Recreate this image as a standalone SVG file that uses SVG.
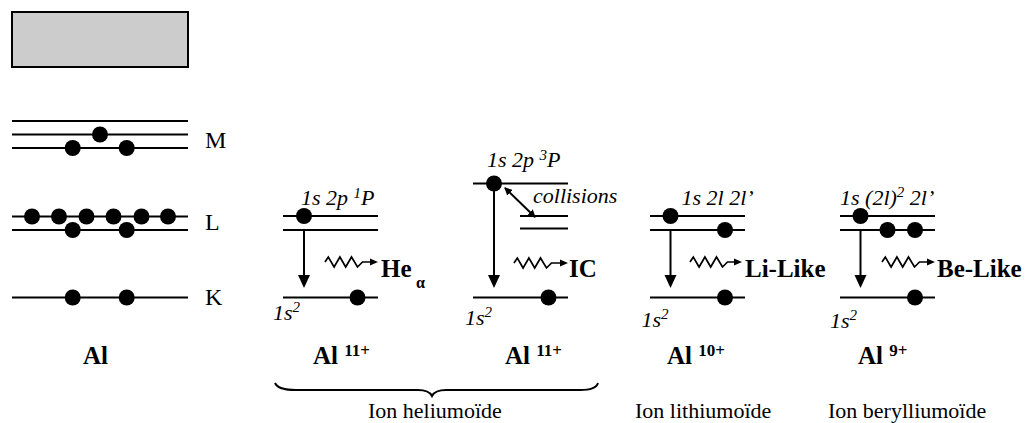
<svg xmlns="http://www.w3.org/2000/svg" width="1030" height="423" viewBox="0 0 1030 423">
<style>
.ln{stroke:#000;stroke-width:2;fill:none}
.wv{stroke:#000;stroke-width:1.7;fill:none;stroke-linejoin:miter}
.dot{fill:#000}
text{font-family:'Liberation Serif','Times New Roman',serif;fill:#000}
.it{font-style:italic;font-size:22px}
.bd{font-weight:bold;font-size:25px}
.sup{font-size:17px}
.rg{font-size:22px}
.lv{font-size:24px}
.sm{font-size:15px}
</style>
<defs>
<marker id="sa" viewBox="0 0 8 8" refX="7" refY="4" markerWidth="8" markerHeight="8" markerUnits="userSpaceOnUse" orient="auto-start-reverse"><path d="M0,0 L8,4 L0,8 z" fill="#000"/></marker>
<marker id="wa" viewBox="0 0 8 8" refX="6" refY="4" markerWidth="8" markerHeight="8" markerUnits="userSpaceOnUse" orient="auto"><path d="M0,0.5 L8,4 L0,7.5 z" fill="#000"/></marker>
</defs>

<g id="legend-box"><rect x="12" y="12" width="176" height="55" fill="#cccccc" stroke="#000" stroke-width="2"/></g>

<g id="atom-al">
<line class="ln" x1="12" y1="121" x2="188" y2="121"/>
<line class="ln" x1="12" y1="134.5" x2="188" y2="134.5"/>
<line class="ln" x1="12" y1="148" x2="188" y2="148"/>
<circle class="dot" cx="100" cy="134.5" r="8"/>
<circle class="dot" cx="72.7" cy="148" r="8"/>
<circle class="dot" cx="126.7" cy="148" r="8"/>
<line class="ln" x1="12" y1="216.5" x2="188" y2="216.5"/>
<line class="ln" x1="12" y1="230" x2="188" y2="230"/>
<circle class="dot" cx="32" cy="216.5" r="8"/>
<circle class="dot" cx="59" cy="216.5" r="8"/>
<circle class="dot" cx="86.5" cy="216.5" r="8"/>
<circle class="dot" cx="113.5" cy="216.5" r="8"/>
<circle class="dot" cx="141.5" cy="216.5" r="8"/>
<circle class="dot" cx="168" cy="216.5" r="8"/>
<circle class="dot" cx="72.7" cy="230" r="8"/>
<circle class="dot" cx="126.7" cy="230" r="8"/>
<line class="ln" x1="12" y1="297.5" x2="188" y2="297.5"/>
<circle class="dot" cx="72.7" cy="297.5" r="8"/>
<circle class="dot" cx="126.7" cy="297.5" r="8"/>
<text class="lv" x="205" y="148">M</text>
<text class="lv" x="205" y="230">L</text>
<text class="lv" x="205" y="305">K</text>
<text class="bd" x="83" y="364">Al</text>
</g>

<g id="ion-he-alpha">
<line class="ln" x1="283" y1="216" x2="378" y2="216"/>
<line class="ln" x1="283" y1="230" x2="378" y2="230"/>
<circle class="dot" cx="304" cy="216" r="8"/>
<line class="ln" x1="283" y1="297.5" x2="378" y2="297.5"/>
<circle class="dot" cx="357.5" cy="297.5" r="8"/>
<text class="it" x="301" y="205">1s 2p <tspan class="sm" dy="-7">1</tspan><tspan dy="7">P</tspan></text>
<text class="it" x="273" y="320">1s<tspan class="sm" dy="-8">2</tspan></text>
<text class="bd" x="381" y="277">He</text>
<text class="bd" x="416" y="288" style="font-size:16px">α</text>
<text class="bd" x="313" y="364">Al <tspan class="sup" dy="-8">11+</tspan></text>
</g>

<g id="ion-ic">
<line class="ln" x1="473" y1="183.5" x2="568" y2="183.5"/>
<circle class="dot" cx="494" cy="183.5" r="8"/>
<line class="ln" x1="520" y1="216" x2="568" y2="216"/>
<line class="ln" x1="520" y1="228.5" x2="568" y2="228.5"/>
<line class="ln" x1="473" y1="297.5" x2="568" y2="297.5"/>
<circle class="dot" cx="548.5" cy="297.5" r="8"/>
<text class="it" x="487" y="166.5">1s 2p <tspan class="sm" dy="-7">3</tspan><tspan dy="7">P</tspan></text>
<text class="it" x="533" y="203">collisions</text>
<text class="it" x="465" y="325">1s<tspan class="sm" dy="-8">2</tspan></text>
<text class="bd" x="569" y="277">IC</text>
<text class="bd" x="505" y="364">Al <tspan class="sup" dy="-8">11+</tspan></text>
</g>

<g id="ion-li">
<line class="ln" x1="650" y1="216" x2="745" y2="216"/>
<line class="ln" x1="650" y1="230" x2="745" y2="230"/>
<circle class="dot" cx="670.5" cy="216" r="8"/>
<circle class="dot" cx="725" cy="230" r="8"/>
<line class="ln" x1="650" y1="297.5" x2="745" y2="297.5"/>
<circle class="dot" cx="725" cy="297.5" r="8"/>
<text class="it" x="681.5" y="205">1s 2l 2l’</text>
<text class="it" x="641.5" y="327">1s<tspan class="sm" dy="-8">2</tspan></text>
<text class="bd" x="745" y="277">Li-Like</text>
<text class="bd" x="667" y="364">Al <tspan class="sup" dy="-8">10+</tspan></text>
</g>

<g id="ion-be">
<line class="ln" x1="840" y1="216" x2="935" y2="216"/>
<line class="ln" x1="840" y1="230" x2="935" y2="230"/>
<circle class="dot" cx="860.5" cy="216" r="8"/>
<circle class="dot" cx="887.5" cy="230" r="8"/>
<circle class="dot" cx="915" cy="230" r="8"/>
<line class="ln" x1="840" y1="297.5" x2="935" y2="297.5"/>
<circle class="dot" cx="915" cy="297.5" r="8"/>
<text class="it" x="840" y="205">1s (2l)<tspan class="sm" dy="-8">2</tspan><tspan dy="8"> 2l’</tspan></text>
<text class="it" x="830" y="328">1s<tspan class="sm" dy="-8">2</tspan></text>
<text class="bd" x="937" y="277">Be-Like</text>
<text class="bd" x="858" y="364">Al <tspan class="sup" dy="-8">9+</tspan></text>
</g>

<g id="groups">
<path class="ln" d="M275,383 Q278,390 296,390 L418,390 Q429,390 432,396 Q435,390 446,390 L580,390 Q596,390 598,383"/>
<text class="rg" x="368" y="418">Ion heliumoïde</text>
<text class="rg" x="635" y="418">Ion lithiumoïde</text>
<text class="rg" x="828" y="418">Ion berylliumoïde</text>
</g>

<g id="connectors">
<line class="ln" x1="304" y1="230" x2="304" y2="276"/>
<polygon class="dot" points="298,275 310,275 304,288"/>
<line class="ln" x1="494" y1="183.5" x2="494" y2="276"/>
<polygon class="dot" points="488,275 500,275 494,288"/>
<line class="ln" x1="670.5" y1="230" x2="670.5" y2="276"/>
<polygon class="dot" points="664.5,275 676.5,275 670.5,288"/>
<line class="ln" x1="860.5" y1="230" x2="860.5" y2="276"/>
<polygon class="dot" points="854.5,275 866.5,275 860.5,288"/>
<line class="ln" x1="505" y1="188" x2="535" y2="217" marker-start="url(#sa)" marker-end="url(#sa)"/>
<path class="wv" d="M325,262 l3.3,-5 l5.8,10 l5.8,-10 l5.8,10 l5.8,-10 l6,10 l5,-5 L376,262" marker-end="url(#wa)"/>
<path class="wv" d="M514,263 l3.3,-5 l5.8,10 l5.8,-10 l5.8,10 l5.8,-10 l6,10 l5,-5 L566,263" marker-end="url(#wa)"/>
<path class="wv" d="M690,262 l3.3,-5 l5.8,10 l5.8,-10 l5.8,10 l5.8,-10 l6,10 l5,-5 L740,262" marker-end="url(#wa)"/>
<path class="wv" d="M882,262 l3.3,-5 l5.8,10 l5.8,-10 l5.8,10 l5.8,-10 l6,10 l5,-5 L933,262" marker-end="url(#wa)"/>
</g>
</svg>
